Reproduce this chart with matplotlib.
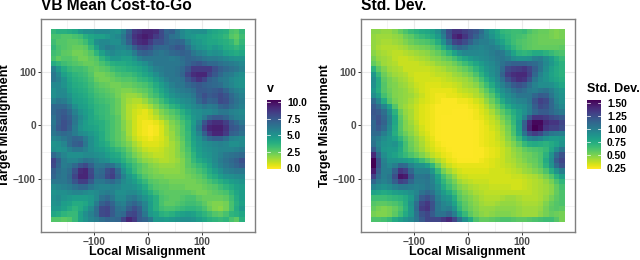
import numpy as np
import matplotlib
matplotlib.use("Agg")
import matplotlib.pyplot as plt
from matplotlib.colors import Normalize

plt.rcParams['font.family'] = ['Liberation Sans', 'DejaVu Sans']
plt.rcParams['font.weight'] = 'bold'

TITLE_LEFT = "VB Mean Cost-to-Go"
TITLE_RIGHT = "Std. Dev."
XLABEL = "Local Misalignment"
YLABEL = "Target Misalignment"
LEGEND_LEFT = "v"
LEGEND_RIGHT = "Std. Dev."
TICKS = [-100, 0, 100]
MINOR = [-150, -50, 50, 150]
TICK_LABELS = ["\u2212100", "0", "100"]
CB_TICKS_LEFT = [0.0, 2.5, 5.0, 7.5, 10.0]
CB_TICKS_RIGHT = [0.25, 0.5, 0.75, 1.0, 1.25, 1.5]
LOCAL = [-175 + 10 * i for i in range(36)]
TARGET = [175 - 10 * i for i in range(36)]

# V in tenths, rows from target=+175 down to -175
V_TENTHS = [
[35,38,38,40,42,48,52,52,55,55,55,52,50,58,72,85,88,92,92,90,80,70,72,62,55,50,52,52,52,45,42,40,38,30,28,35],
[30,30,28,28,30,32,38,42,45,45,48,52,55,62,75,88,92,95,92,85,80,72,65,62,55,50,48,45,45,42,40,38,35,28,25,32],
[32,28,28,26,26,28,32,40,52,55,55,52,52,60,72,85,90,92,85,78,78,72,68,70,68,58,50,48,45,42,42,40,38,35,28,35],
[35,30,28,26,24,24,26,34,45,55,60,58,55,55,60,72,80,82,78,70,68,68,72,76,74,65,55,50,48,45,48,45,40,38,35,38],
[32,30,26,25,22,22,24,28,36,45,52,55,52,50,52,60,70,72,70,65,62,65,68,70,72,70,62,58,55,50,52,50,45,42,40,42],
[30,25,28,28,25,22,22,25,28,36,42,48,48,45,45,50,58,62,62,62,62,62,60,62,66,70,68,66,62,60,60,58,55,52,50,50],
[40,36,32,30,28,26,24,24,26,30,34,38,40,40,42,45,48,52,58,62,62,62,62,62,65,70,74,76,72,68,68,65,62,60,58,55],
[58,48,40,35,32,32,30,26,24,26,28,32,35,36,38,40,42,46,52,58,60,62,62,64,68,76,85,85,85,85,78,72,68,65,62,58],
[62,55,45,40,36,34,32,28,22,22,24,26,30,32,32,35,38,42,46,52,58,62,62,65,70,82,90,92,92,82,75,68,62,60,55,52],
[62,58,50,42,38,36,34,30,24,22,22,24,26,28,28,30,34,36,40,46,52,58,62,62,65,75,82,88,82,72,68,62,60,55,52,50],
[55,55,50,44,40,38,36,32,28,25,24,22,22,24,24,26,28,30,34,40,46,52,58,62,62,68,72,75,72,70,68,66,60,56,52,50],
[52,55,54,46,42,40,38,34,30,28,26,24,22,20,20,22,24,26,30,36,42,48,54,58,60,62,66,74,74,72,74,76,70,62,58,55],
[52,55,55,50,44,42,40,36,32,30,28,26,22,18,16,16,18,22,28,32,38,44,50,54,56,58,62,72,78,74,76,80,76,68,62,58],
[58,62,60,54,46,44,42,38,34,32,30,28,24,18,14,12,12,16,22,26,32,38,44,48,52,54,58,68,75,70,72,80,78,70,64,60],
[68,68,68,62,52,46,44,40,36,34,32,28,24,18,12,10,8,10,14,20,26,30,36,40,46,50,54,58,62,60,62,70,72,66,62,58],
[68,72,74,68,58,50,46,42,36,34,32,28,24,18,12,8,6,4,8,14,20,24,28,32,38,44,50,52,55,55,58,62,62,58,56,54],
[65,72,76,72,62,54,48,42,38,35,32,30,26,18,12,8,4,4,6,10,16,20,24,28,34,40,48,52,60,70,74,74,70,62,58,56],
[62,72,78,74,62,52,46,42,40,38,34,30,26,20,14,8,4,2,2,4,8,14,20,24,30,36,46,58,76,86,90,90,84,74,68,62],
[64,74,78,72,60,50,46,44,42,38,34,30,26,20,14,8,4,2,0,2,6,12,18,22,28,36,48,62,82,92,94,94,88,76,74,68],
[62,66,68,66,60,54,52,48,44,40,34,30,26,22,14,8,4,2,0,2,6,12,16,22,28,34,46,56,72,85,92,92,85,72,70,65],
[56,58,62,66,70,68,60,52,46,40,34,30,26,22,16,10,6,4,2,4,6,10,16,20,26,34,44,50,60,68,72,72,66,58,56,54],
[50,52,56,66,72,74,62,52,46,42,38,32,28,24,20,14,10,6,5,5,7,10,14,18,24,32,42,48,52,54,56,58,56,52,52,54],
[52,50,52,58,62,62,58,52,48,46,42,38,34,30,24,18,14,10,8,8,9,12,14,18,24,30,40,46,50,52,54,56,56,56,58,60],
[68,62,56,52,52,52,54,54,52,50,46,42,40,34,28,22,18,14,12,10,10,12,14,18,22,28,36,44,48,50,54,58,62,64,66,68],
[82,72,60,56,56,60,64,62,58,54,52,46,44,38,32,28,22,18,16,14,12,12,14,16,20,26,34,40,44,48,54,60,64,68,72,78],
[80,70,60,62,68,76,80,72,62,62,66,64,56,46,38,32,28,24,20,18,16,16,16,18,20,26,30,34,38,44,52,58,62,66,70,74],
[72,66,62,66,78,90,92,80,66,68,78,82,68,52,42,34,28,24,22,20,18,18,18,18,20,24,26,30,34,40,46,52,58,60,62,62],
[70,64,62,68,82,92,92,82,68,70,80,84,72,58,48,42,34,28,24,22,22,20,20,20,20,22,24,26,30,36,40,46,50,52,54,55],
[62,62,62,66,76,84,84,74,62,62,66,68,62,54,50,46,40,34,28,26,24,24,22,22,22,22,22,24,26,30,34,38,42,46,48,50],
[54,56,58,60,64,68,68,62,58,56,56,58,56,52,52,50,46,40,32,28,26,26,24,24,24,22,22,22,24,26,28,32,36,40,44,46],
[50,52,52,54,56,56,54,52,54,58,60,58,52,52,54,54,50,44,38,32,28,26,26,26,26,26,24,22,22,24,26,28,30,36,42,46],
[52,54,50,48,46,46,46,48,54,64,68,62,54,54,60,62,56,50,44,38,30,28,26,26,28,30,30,26,24,24,24,24,26,32,40,46],
[50,52,46,44,40,40,42,48,60,72,76,70,60,58,66,70,64,56,46,38,30,26,26,28,30,32,32,30,26,22,20,20,22,30,38,44],
[48,48,44,40,36,40,46,54,66,80,82,74,64,62,72,78,72,58,46,38,32,30,30,32,34,36,36,34,30,24,20,18,22,30,40,48],
[42,40,36,34,34,44,52,58,66,80,82,74,66,68,80,82,74,62,48,44,38,36,38,42,44,46,44,40,36,32,28,26,30,36,38,42],
[28,28,26,28,34,44,50,56,60,66,70,68,70,82,92,86,74,70,62,48,48,46,48,50,52,52,50,46,42,38,36,34,36,30,26,38],
]

# Std. Dev. in hundredths, rows from target=+175 down to -175
STD_HUNDREDTHS = [
[48,48,46,46,50,56,62,68,72,76,78,82,90,105,125,135,135,130,125,120,110,95,85,78,70,68,66,66,68,62,58,55,55,52,50,52],
[46,44,44,44,46,48,54,58,64,68,72,76,84,100,122,140,145,135,125,115,105,98,88,80,74,70,66,64,62,58,56,54,54,52,50,52],
[46,44,42,42,44,46,50,54,58,60,62,66,74,90,110,128,132,125,115,105,100,100,95,86,80,72,66,62,60,58,56,54,54,54,54,54],
[46,42,40,40,40,42,44,48,50,52,54,58,64,74,90,105,112,108,100,98,95,98,100,96,88,78,70,64,60,58,56,56,56,56,56,58],
[48,44,42,40,38,38,40,42,44,46,48,52,56,62,70,80,90,95,95,95,94,96,100,104,102,92,80,72,70,72,76,76,72,68,64,62],
[52,46,44,42,38,36,36,38,40,42,44,48,50,54,58,64,72,78,84,88,92,94,98,102,104,100,92,88,88,90,98,100,92,84,74,68],
[56,50,44,42,40,36,36,36,36,38,40,42,46,48,50,54,60,66,72,78,84,90,94,100,106,112,115,115,115,112,110,104,94,86,78,72],
[72,58,50,44,42,40,36,36,36,36,36,38,40,42,46,48,52,56,62,70,78,86,92,98,110,126,130,132,135,128,116,104,92,82,76,72],
[86,68,54,48,44,42,40,36,34,34,34,36,38,38,40,44,46,50,54,62,72,82,90,98,114,132,138,140,140,130,112,98,88,80,76,72],
[92,76,58,52,48,44,42,38,34,34,34,34,34,36,38,40,42,44,48,54,64,74,84,94,106,122,132,138,135,122,104,94,88,82,78,74],
[90,76,60,52,50,46,44,40,36,34,32,32,32,34,34,36,38,42,44,48,56,66,76,88,98,108,118,122,118,108,98,92,92,90,84,78],
[86,74,60,54,50,48,46,42,38,34,32,30,30,30,30,32,36,38,40,42,50,58,68,80,90,98,106,112,108,102,100,104,106,100,92,86],
[92,82,64,56,50,48,46,44,40,36,32,30,28,28,30,30,32,34,36,40,44,52,60,72,84,92,98,104,104,104,112,118,116,104,94,88],
[110,96,76,60,52,48,46,42,38,34,32,30,28,26,26,26,28,28,30,34,38,46,54,64,76,86,92,96,98,104,120,130,126,112,98,90],
[118,110,96,80,60,48,44,40,36,32,30,28,26,26,26,26,26,26,28,30,34,40,48,56,66,76,84,88,92,100,116,126,122,112,102,94],
[120,118,108,92,72,54,46,42,36,32,30,28,26,26,26,25,25,25,26,28,32,36,42,50,58,66,74,82,90,100,112,118,118,112,106,102],
[118,122,112,98,78,58,48,42,36,32,30,28,26,25,25,25,25,25,26,28,30,34,38,44,52,60,70,80,98,120,135,135,132,126,122,118],
[112,122,114,98,78,60,50,44,38,32,30,28,26,25,25,25,25,25,25,26,28,32,36,40,48,56,68,84,115,140,152,152,140,135,135,128],
[112,118,110,94,76,60,50,46,40,34,30,28,26,25,25,25,25,25,25,26,28,30,34,38,44,52,64,82,116,142,155,150,135,130,130,125],
[110,110,100,90,74,62,54,48,42,36,32,28,26,25,25,25,25,25,25,26,28,30,32,36,42,50,62,78,105,125,132,126,112,104,102,100],
[104,100,92,86,80,70,60,52,46,40,34,30,26,25,25,25,25,25,25,26,28,30,32,36,40,48,56,68,84,96,100,96,88,84,84,86],
[106,96,88,86,88,78,64,54,48,42,36,32,28,26,25,25,25,25,25,26,28,30,32,34,38,44,50,58,68,74,76,74,72,76,80,88],
[118,100,86,84,84,76,64,56,50,44,38,34,30,28,26,25,25,25,25,26,26,28,30,32,36,40,46,50,56,60,62,64,68,78,92,104],
[140,112,92,84,80,74,68,62,56,50,44,38,34,30,28,26,25,25,25,26,26,28,30,32,36,40,44,48,52,54,58,62,72,88,110,122],
[155,122,98,88,88,86,84,80,74,66,58,50,42,36,30,28,26,26,26,26,28,30,32,34,36,40,42,46,50,54,56,62,76,92,118,128],
[155,122,100,94,100,112,110,98,90,88,82,70,54,42,36,32,30,30,30,30,30,30,32,34,36,38,40,44,46,50,54,60,72,88,110,122],
[145,116,100,100,116,135,130,112,98,98,98,86,68,52,44,38,34,32,32,32,32,32,34,34,34,36,38,40,44,46,50,54,62,74,88,100],
[130,110,100,104,124,148,145,122,104,104,106,96,80,64,54,46,38,36,34,34,34,34,34,34,34,34,36,36,38,40,42,46,52,60,72,82],
[112,102,98,102,116,130,126,112,102,102,104,98,84,70,60,52,44,40,38,36,36,36,34,34,34,34,34,34,36,38,40,42,46,52,62,70],
[96,92,88,92,98,102,102,100,98,100,104,100,90,76,66,58,50,46,42,40,38,38,36,36,36,36,34,34,36,38,40,42,44,48,56,64],
[80,78,76,78,82,84,86,90,96,106,112,106,94,84,76,66,56,50,46,42,40,38,38,38,38,38,38,38,38,38,40,42,44,48,56,62],
[66,66,66,68,70,72,76,84,100,118,124,116,100,90,86,74,60,54,50,46,42,40,40,40,42,44,44,42,40,40,40,42,46,52,58,62],
[60,58,58,60,62,66,74,88,108,128,134,122,104,96,92,80,66,58,52,48,44,42,42,44,46,46,46,44,42,42,42,44,50,56,60,62],
[56,52,50,52,56,62,72,86,110,132,136,122,104,98,100,88,70,60,54,50,46,46,46,48,48,48,48,46,44,44,44,46,52,58,60,58],
[52,50,50,52,58,66,76,86,106,122,128,118,106,106,112,100,80,68,58,52,48,46,48,50,50,50,48,46,44,44,44,48,52,56,54,52],
[62,62,64,68,76,82,88,94,104,118,128,128,128,134,140,128,108,90,76,62,56,56,58,60,62,62,60,58,58,60,62,64,66,66,60,52],
]

W, H = 640, 260
fig = plt.figure(figsize=(W / 100, H / 100), dpi=100, facecolor='white')


def rect(x0, y0, x1, y1):
    return [x0 / W, 1 - y1 / H, (x1 - x0) / W, (y1 - y0) / H]


def panel(px, title, values, vmin, vmax, legend, cb_ticks, cb_fmt, cb_px):
    ax = fig.add_axes(rect(px, 19, px + 213.5, 231.7))
    ax.set_xlim(-198, 198)
    ax.set_ylim(-198, 198)
    ax.set_axisbelow(True)
    ax.set_xticks(TICKS)
    ax.set_yticks(TICKS)
    ax.set_xticklabels(TICK_LABELS)
    ax.set_yticklabels(TICK_LABELS)
    ax.set_xticks(MINOR, minor=True)
    ax.set_yticks(MINOR, minor=True)
    ax.grid(True, which='major', color='#ebebeb', lw=0.8)
    ax.grid(True, which='minor', color='#f0f0f0', lw=0.5)
    ax.tick_params(which='minor', length=0)
    ax.tick_params(which='major', length=2.2, width=0.7, color='#333333',
                   labelcolor='#4d4d4d', labelsize=7.4, pad=1.5)
    for lab in ax.get_xticklabels() + ax.get_yticklabels():
        lab.set_fontweight('bold')
    for s in ax.spines.values():
        s.set_color('#7f7f7f')
        s.set_linewidth(1.0)
    norm = Normalize(vmin, vmax)
    ax.pcolormesh(np.array(LOCAL), np.array(TARGET), np.array(values), cmap='viridis_r',
                  norm=norm, shading='nearest', rasterized=True, antialiased=False, zorder=2)
    fig.text((px + 106.5) / W, 1 - 252.5 / H, XLABEL, fontsize=9, fontweight='bold',
             ha='center', va='center', color='black')
    fig.text((px - 36) / W, 1 - 125.5 / H, YLABEL, fontsize=9.2, fontweight='bold',
             ha='center', va='center', rotation=90, color='black')
    fig.text(px / W, 1 - 6 / H, title, fontsize=11.2, fontweight='bold', color='black',
             ha='left', va='center')

    cax = fig.add_axes(rect(cb_px, 100, cb_px + 13.7, 168.5))
    sm = plt.cm.ScalarMappable(norm=norm, cmap='viridis_r')
    cb = fig.colorbar(sm, cax=cax)
    cb.outline.set_visible(False)
    cb.set_ticks(cb_ticks)
    cb.set_ticklabels([cb_fmt % t for t in cb_ticks])
    cax.tick_params(length=0, labelsize=7.4, pad=4.5, labelcolor='black')
    for lab in cax.get_yticklabels():
        lab.set_fontweight('bold')
    for t in cb_ticks:
        cax.plot([0, 0.2], [t, t], color='white', lw=0.5, transform=cax.get_yaxis_transform())
        cax.plot([0.8, 1], [t, t], color='white', lw=0.5, transform=cax.get_yaxis_transform())
    fig.text(cb_px / W, 1 - 89 / H, legend, fontsize=9, fontweight='bold', ha='left', va='center')


panel(41, TITLE_LEFT, np.array(V_TENTHS) / 10, 0.0, 10.3, LEGEND_LEFT, CB_TICKS_LEFT, '%.1f', 267)
panel(361, TITLE_RIGHT, np.array(STD_HUNDREDTHS) / 100, 0.25, 1.55, LEGEND_RIGHT, CB_TICKS_RIGHT, '%.2f', 587)

fig.savefig('out.png', dpi=100)
